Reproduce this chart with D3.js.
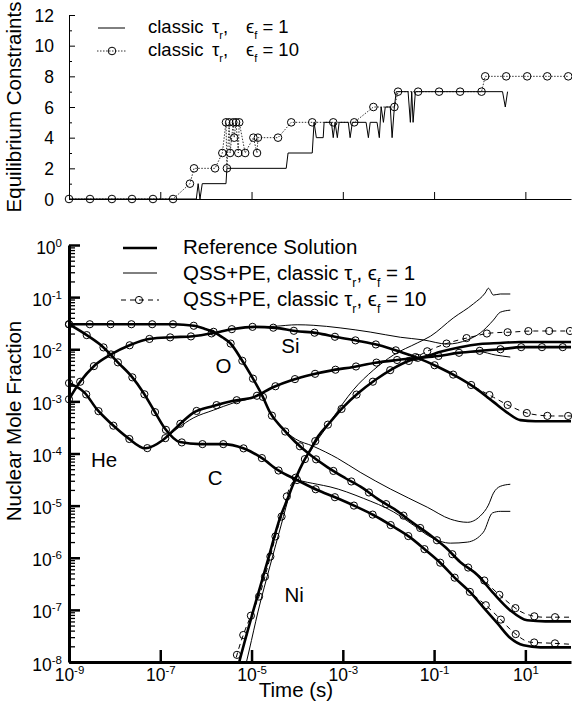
<!DOCTYPE html>
<html>
<head>
<meta charset="utf-8">
<script src="https://d3js.org/d3.v7.min.js"></script>
<style>
  body { margin: 0; background: white; }
  svg { font-family: 'Liberation Sans', Arial, sans-serif; }
  .thick { fill: none; stroke: black; stroke-width: 2.6px; }
  .thin { fill: none; stroke: black; stroke-width: 1px; }
  .dash { fill: none; stroke: black; stroke-width: 1px; stroke-dasharray: 5 4; }
  .dotted { fill: none; stroke: #333; stroke-width: 1px; stroke-dasharray: 1.5 1.5; }
  .mark { fill: none; stroke: black; stroke-width: 1px; }
  text { white-space: pre; }
</style>
</head>
<body>
<svg id="chart" width="572" height="702"></svg>
<script>
// ticks
const timeTicks = [1e-9, 1e-7, 1e-5, 1e-3, 1e-1, 1e1];
const countTicks = [0, 2, 4, 6, 8, 10, 12];
const countMinor = [1, 3, 5, 7, 9, 11];
const fracTicks = [1e0, 1e-1, 1e-2, 1e-3, 1e-4, 1e-5, 1e-6, 1e-7, 1e-8];
const minorMult = [2, 3, 4, 5, 6, 7, 8, 9];

// top panel: [log10 time, number of equilibrium constraints]
const constraintsEps1 = [[-9.00,0],[-6.21,0],[-6.17,1],[-6.13,0],[-6.08,1],[-5.56,1],[-5.54,2],[-4.24,2],[-4.20,3],
  [-3.67,3],[-3.63,5],[-3.58,4],[-3.43,4],[-3.41,5],[-3.25,5],[-3.21,4],[-3.17,5],[-3.12,4],[-3.08,5],[-2.88,5],
  [-2.84,4],[-2.79,5],[-2.49,5],[-2.44,4],[-2.40,5],[-2.25,5],[-2.20,4],[-2.16,6],[-2.11,5],[-2.07,6],[-1.96,6],
  [-1.92,4],[-1.87,6],[-1.83,7],[-1.57,7],[-1.52,5],[-1.49,7],[-1.46,5],[-1.41,7],[0.50,7],[0.56,6],[0.61,7]];
const constraintsEps10 = [[-9.00,0],[-8.54,0],[-8.06,0],[-7.62,0],[-7.16,0],[-6.72,0],[-6.35,1],[-6.26,2],[-5.80,2],
  [-5.64,3],[-5.56,5],[-5.54,2],[-5.49,5],[-5.47,3],[-5.40,5],[-5.38,4],[-5.34,5],[-5.29,3],[-5.27,5],[-5.14,3],
  [-4.96,4],[-4.88,3],[-4.86,4],[-4.42,4],[-4.13,5],[-3.67,5],[-3.21,5],[-2.75,5],[-2.33,6],[-1.87,6],[-1.79,7],
  [-1.35,7],[-0.89,7],[-0.43,7],[0.04,7],[0.12,8],[0.58,8],[1.04,8],[1.48,8],[1.94,8]];

// bottom panel: [log10 time, log10 mole fraction]
const heRef = [[-9.00,-2.65],[-8.65,-2.84],[-8.39,-3.15],[-8.06,-3.44],[-7.71,-3.70],[-7.33,-3.90],[-6.94,-3.74],
  [-6.61,-3.47],[-6.28,-3.22],[-5.84,-3.09],[-5.40,-2.99],[-4.96,-2.92],[-4.53,-2.73],[-4.11,-2.59],[-3.65,-2.48],
  [-3.21,-2.40],[-2.77,-2.34],[-2.29,-2.26],[-1.85,-2.21],[-1.41,-2.17],[-0.91,-2.13],[-0.47,-2.07],[0.01,-2.03],
  [0.45,-2.00],[0.93,-1.96],[1.37,-1.96],[2.00,-1.96]];
const heEps1 = [[-9.00,-2.65],[-8.65,-2.84],[-8.39,-3.15],[-8.06,-3.44],[-7.71,-3.70],[-7.33,-3.90],[-6.94,-3.74],
  [-6.61,-3.51],[-6.28,-3.32],[-5.84,-3.17],[-5.40,-3.03],[-4.96,-2.92],[-4.53,-2.73],[-4.11,-2.59],[-3.65,-2.48],
  [-3.21,-2.40],[-2.77,-2.34],[-2.29,-2.26],[-1.85,-2.21],[-1.41,-2.17],[-0.91,-2.13],[-0.47,-2.07],[0.01,-2.05],
  [0.34,-2.11],[0.67,-2.15]];

const siRef = [[-9.00,-2.96],[-8.76,-2.63],[-8.45,-2.32],[-8.10,-2.11],[-7.66,-1.92],[-7.22,-1.80],[-6.74,-1.77],
  [-6.28,-1.75],[-5.84,-1.69],[-5.40,-1.61],[-4.94,-1.57],[-4.48,-1.59],[-4.04,-1.65],[-3.56,-1.69],[-3.12,-1.77],
  [-2.66,-1.84],[-2.22,-1.92],[-1.74,-2.05],[-1.35,-2.17],[-0.91,-2.34],[-0.49,-2.53],[-0.10,-2.74],[0.30,-3.01],
  [0.61,-3.22],[0.89,-3.36],[1.22,-3.38],[2.00,-3.38]];
const siEps1Tail = [[-4.50,-1.56],[-4.00,-1.53],[-3.65,-1.54],[-3.06,-1.59],[-2.40,-1.67],[-1.74,-1.77],[-1.24,-1.82],
  [-0.71,-1.90],[-0.27,-1.82],[0.01,-1.69],[0.30,-1.44],[0.45,-1.29],[0.67,-1.25]];
const siEps10Tail = [[-0.10,-2.73],[0.30,-2.92],[0.71,-3.11],[1.11,-3.24],[1.59,-3.28],[2.00,-3.28]];

const oRef = [[-9.00,-1.52],[-8.54,-1.52],[-7.62,-1.52],[-6.72,-1.52],[-6.26,-1.55],[-6.02,-1.61],[-5.82,-1.67],
  [-5.64,-1.77],[-5.47,-1.88],[-5.21,-2.21],[-4.99,-2.53],[-4.77,-2.88],[-4.59,-3.22],[-4.33,-3.51],[-4.04,-3.78],
  [-3.71,-4.03],[-3.34,-4.26],[-2.95,-4.47],[-2.57,-4.66],[-2.22,-4.88],[-1.83,-5.09],[-1.48,-5.32],[-1.08,-5.57],
  [-0.75,-5.80],[-0.43,-6.08],[-0.05,-6.33],[0.30,-6.68],[0.67,-7.01],[1.04,-7.20],[1.44,-7.22],[2.00,-7.22]];
const oEps1Tail = [[-4.04,-3.72],[-3.65,-3.86],[-3.12,-4.09],[-2.62,-4.36],[-1.96,-4.68],[-1.15,-5.03],[-0.64,-5.26],
  [-0.27,-5.32],[0.01,-5.20],[0.19,-4.99],[0.30,-4.76],[0.45,-4.63],[0.67,-4.59]];
const oEps10Tail = [[-0.05,-6.31],[0.23,-6.55],[0.56,-6.81],[0.96,-7.06],[1.39,-7.14],[2.00,-7.14]];

const cRef = [[-9.00,-1.52],[-8.61,-1.73],[-8.25,-1.96],[-7.93,-2.25],[-7.62,-2.53],[-7.38,-2.82],[-7.14,-3.17],
  [-6.89,-3.53],[-6.57,-3.78],[-6.13,-3.82],[-5.64,-3.82],[-5.18,-3.90],[-4.77,-4.09],[-4.42,-4.32],[-4.00,-4.51],
  [-3.56,-4.70],[-3.17,-4.84],[-2.73,-5.01],[-2.33,-5.18],[-1.92,-5.39],[-1.54,-5.60],[-1.19,-5.85],[-0.86,-6.10],
  [-0.54,-6.39],[-0.21,-6.66],[0.08,-6.95],[0.39,-7.26],[0.67,-7.54],[0.96,-7.68],[1.33,-7.72],[2.00,-7.72]];
const cEps1Tail = [[-4.00,-4.50],[-3.56,-4.59],[-3.28,-4.64],[-2.55,-4.86],[-1.89,-5.12],[-1.46,-5.37],[-1.08,-5.60],
  [-0.64,-5.72],[-0.27,-5.70],[0.08,-5.51],[0.28,-5.14],[0.45,-5.11],[0.67,-5.11]];
const cEps10Tail = [[0.08,-6.87],[0.41,-7.14],[0.74,-7.43],[1.11,-7.62],[1.59,-7.64],[2.00,-7.66]];

const niRef = [[-5.36,-8.31],[-5.27,-8.00],[-4.96,-7.01],[-4.66,-6.10],[-4.37,-5.22],[-4.22,-4.89],[-4.11,-4.64],
  [-4.00,-4.41],[-3.87,-4.17],[-3.71,-3.93],[-3.54,-3.67],[-3.28,-3.40],[-2.99,-3.11],[-2.66,-2.84],[-2.29,-2.59],
  [-1.92,-2.38],[-1.52,-2.21],[-1.15,-2.13],[-0.86,-2.05],[-0.43,-1.96],[0.01,-1.90],[0.45,-1.88],[0.89,-1.86],[2.00,-1.86]];
const niEps1 = [[-5.18,-8.25],[-5.05,-7.77],[-4.86,-7.04],[-4.59,-6.14],[-4.35,-5.37],[-4.15,-4.74],[-4.00,-4.40],
  [-3.71,-3.95],[-3.28,-3.40],[-2.99,-3.03],[-2.77,-2.78],[-2.33,-2.40],[-1.89,-2.11],[-1.37,-1.88],[-1.08,-1.75],
  [-0.58,-1.40],[-0.14,-1.13],[0.12,-0.92],[0.19,-0.83],[0.30,-0.96],[0.45,-0.94],[0.67,-0.94]];
const niEps10 = [[-5.43,-8.25],[-5.29,-7.77],[-5.16,-7.43],[-4.99,-7.06],[-4.81,-6.68],[-4.68,-6.28],[-4.55,-5.85],
  [-4.44,-5.47],[-4.31,-5.12],[-4.20,-4.74],[-4.00,-4.41],[-3.87,-4.17],[-3.71,-3.93],[-3.54,-3.67],[-3.28,-3.40],
  [-2.99,-3.11],[-2.66,-2.84],[-2.29,-2.59],[-1.92,-2.38],[-1.52,-2.21],[-1.08,-2.01],[-0.69,-1.88],[-0.21,-1.77],
  [0.23,-1.69],[0.71,-1.67],[1.15,-1.65],[2.00,-1.65]];

const speciesLabels = [
  { name: 'He', t: -8.52, f: -4.25 },
  { name: 'C', t: -5.96, f: -4.60 },
  { name: 'O', t: -5.79, f: -2.45 },
  { name: 'Si', t: -4.35, f: -2.07 },
  { name: 'Ni', t: -4.28, f: -6.85 }
];

// reference points until the branch starts, then the branch
function withTail(ref, tail) {
  return ref.filter(p => p[0] < tail[0][0]).concat(tail);
}

const series = [
  { ref: heRef, eps1: heEps1, eps10: heRef },
  { ref: siRef, eps1: withTail(siRef, siEps1Tail), eps10: withTail(siRef, siEps10Tail) },
  { ref: oRef, eps1: withTail(oRef, oEps1Tail), eps10: withTail(oRef, oEps10Tail) },
  { ref: cRef, eps1: withTail(cRef, cEps1Tail), eps10: withTail(cRef, cEps10Tail) },
  { ref: niRef, eps1: niEps1, eps10: niEps10 }
];

const svg = d3.select('#chart');
const x = d3.scaleLog().domain([1e-9, 1e2]).range([69, 571]);
const yTop = d3.scaleLinear().domain([0, 12]).range([199, 15]);
const yBot = d3.scaleLog().domain([1e-8, 1]).range([662, 245]);

function rich(sel, parts, size) {
  let shift = 0;
  parts.forEach(p => {
    const ts = sel.append('tspan').text(p.t);
    const want = p.sub ? size * 0.32 : 0;
    ts.attr('dy', want - shift);
    shift = want;
    if (p.sub) ts.attr('font-size', size * 0.6);
    if (p.x != null) ts.attr('x', p.x);
  });
}

// ---------- top panel ----------
const lineTop = d3.line().x(d => x(10 ** d[0])).y(d => yTop(d[1]));
const gTop = svg.append('g');

gTop.append('path').datum(constraintsEps10).attr('class', 'dotted').attr('d', lineTop);
gTop.append('path').datum(constraintsEps1).attr('class', 'thin').attr('d', lineTop);
gTop.selectAll('circle').data(constraintsEps10).join('circle')
  .attr('class', 'mark').attr('r', 3.8)
  .attr('cx', d => x(10 ** d[0])).attr('cy', d => yTop(d[1]));

const topY = gTop.append('g').attr('transform', 'translate(69,0)')
  .call(d3.axisLeft(yTop).tickValues(countTicks).tickSize(-6).tickSizeOuter(0).tickPadding(15));
gTop.append('g').attr('transform', 'translate(69,0)')
  .call(d3.axisLeft(yTop).tickValues(countMinor).tickSize(-3).tickSizeOuter(0).tickFormat(''));
gTop.append('g').attr('transform', 'translate(0,199)')
  .call(d3.axisBottom(x).tickValues(timeTicks.slice(1)).tickSize(-7).tickSizeOuter(0).tickFormat(''));
topY.selectAll('text').attr('font-size', 17.5).attr('font-family', null).attr('dy', null).attr('y', 6);
gTop.selectAll('.domain, .tick line').attr('stroke', 'black').attr('stroke-width', 1);

svg.append('text').attr('transform', 'translate(21,107) rotate(-90)')
  .attr('text-anchor', 'middle').attr('font-size', 20.5).text('Equilibrium Constraints');

// top legend
const lt = svg.append('g');
lt.append('line').attr('class', 'thin').attr('x1', 98).attr('x2', 125).attr('y1', 28).attr('y2', 28);
lt.append('line').attr('class', 'dotted').attr('x1', 97).attr('x2', 127).attr('y1', 51).attr('y2', 51);
lt.append('circle').attr('class', 'mark').attr('r', 3.8).attr('cx', 112).attr('cy', 51);
[['1', 33], ['10', 56]].forEach(([v, yy]) => {
  const t = lt.append('text').attr('x', 148).attr('y', yy).attr('font-size', 18.5);
  rich(t, [{ t: 'classic', x: 148 }, { t: '\u03c4', x: 212 }, { t: 'r', sub: true }, { t: ',' },
    { t: '\u03f5', x: 246 }, { t: 'f', sub: true }, { t: ' = ' + v }], 18.5);
});

// ---------- bottom panel ----------
svg.append('clipPath').attr('id', 'plotClip').append('rect')
  .attr('x', 69).attr('y', 245).attr('width', 503).attr('height', 417);

const lineBot = d3.line().x(d => x(10 ** d[0])).y(d => yBot(10 ** d[1])).curve(d3.curveMonotoneX);
const gBot = svg.append('g').attr('clip-path', 'url(#plotClip)');

series.forEach(s => {
  gBot.append('path').datum(s.eps1).attr('class', 'thin').attr('d', lineBot);
});
const dashPaths = series.map(s => gBot.append('path').datum(s.eps10).attr('class', 'dash').attr('d', lineBot));
series.forEach(s => {
  gBot.append('path').datum(s.ref).attr('class', 'thick').attr('d', lineBot);
});

// symbols spaced along each eps=10 curve
const marks = [];
dashPaths.forEach(p => {
  const node = p.node(), len = node.getTotalLength();
  for (let s = 0; s <= len; s += 20.8) {
    const q = node.getPointAtLength(s);
    if (q.y >= 244 && q.y <= 663 && q.x <= 572) marks.push(q);
  }
});
svg.append('g').selectAll('circle').data(marks).join('circle')
  .attr('class', 'mark').attr('r', 3.6).attr('cx', d => d.x).attr('cy', d => d.y);

// axes
const minorTicks = [];
fracTicks.slice(0, -1).forEach(d => minorMult.forEach(m => minorTicks.push(d * m / 10)));

svg.append('g').attr('transform', 'translate(69,0)')
  .call(d3.axisLeft(yBot).tickValues(minorTicks).tickSize(-6).tickSizeOuter(0).tickFormat(''))
  .call(g => g.selectAll('.tick line').attr('stroke-width', 1.3));
const botY = svg.append('g').attr('transform', 'translate(69,0)')
  .call(d3.axisLeft(yBot).tickValues(fracTicks).tickSize(-11).tickSizeOuter(0).tickPadding(7));
const botX = svg.append('g').attr('transform', 'translate(0,662)')
  .call(d3.axisBottom(x).tickValues(timeTicks).tickSize(-12).tickSizeOuter(0));

[botY, botX].forEach(g => {
  g.select('.domain').attr('stroke-width', 3).attr('stroke', 'black');
  g.selectAll('.tick line').attr('stroke-width', 2.5).attr('stroke', 'black');
  g.selectAll('.tick text').each(function (d) {
    const t = d3.select(this).text(null).attr('font-size', 17.5).attr('fill', 'black');
    t.append('tspan').text('10');
    t.append('tspan').attr('font-size', 11.5).attr('dy', -7).text(Math.round(Math.log10(d)));
  });
});
botY.selectAll('.tick text').attr('dy', null).attr('y', 8);
botX.selectAll('.tick text').attr('dy', null).attr('y', 19);
svg.selectAll('.tick text').attr('font-family', null);

svg.append('text').attr('transform', 'translate(21,421) rotate(-90)')
  .attr('text-anchor', 'middle').attr('font-size', 20.5).text('Nuclear Mole Fraction');
svg.append('text').attr('x', 296).attr('y', 697)
  .attr('text-anchor', 'middle').attr('font-size', 20.5).text('Time (s)');

// species labels
svg.append('g').selectAll('text').data(speciesLabels).join('text')
  .attr('x', d => x(10 ** d.t)).attr('y', d => yBot(10 ** d.f))
  .attr('font-size', 20.5).text(d => d.name);

// bottom legend
const lb = svg.append('g');
lb.append('line').attr('class', 'thick').attr('x1', 123).attr('x2', 157).attr('y1', 248).attr('y2', 248);
lb.append('line').attr('class', 'thin').attr('x1', 123).attr('x2', 157).attr('y1', 273).attr('y2', 273);
lb.append('line').attr('class', 'dash').attr('x1', 121).attr('x2', 159).attr('y1', 300).attr('y2', 300);
lb.append('circle').attr('class', 'mark').attr('r', 3.6).attr('cx', 139).attr('cy', 300);
lb.append('text').attr('x', 183).attr('y', 254).attr('font-size', 20.5).text('Reference Solution');
[['1', 280], ['10', 306]].forEach(([v, yy]) => {
  const t = lb.append('text').attr('x', 183).attr('y', yy).attr('font-size', 20.5);
  rich(t, [{ t: 'QSS+PE, classic \u03c4' }, { t: 'r', sub: true }, { t: ', \u03f5' }, { t: 'f', sub: true },
    { t: ' = ' + v }], 20.5);
});
</script>
</body>
</html>
